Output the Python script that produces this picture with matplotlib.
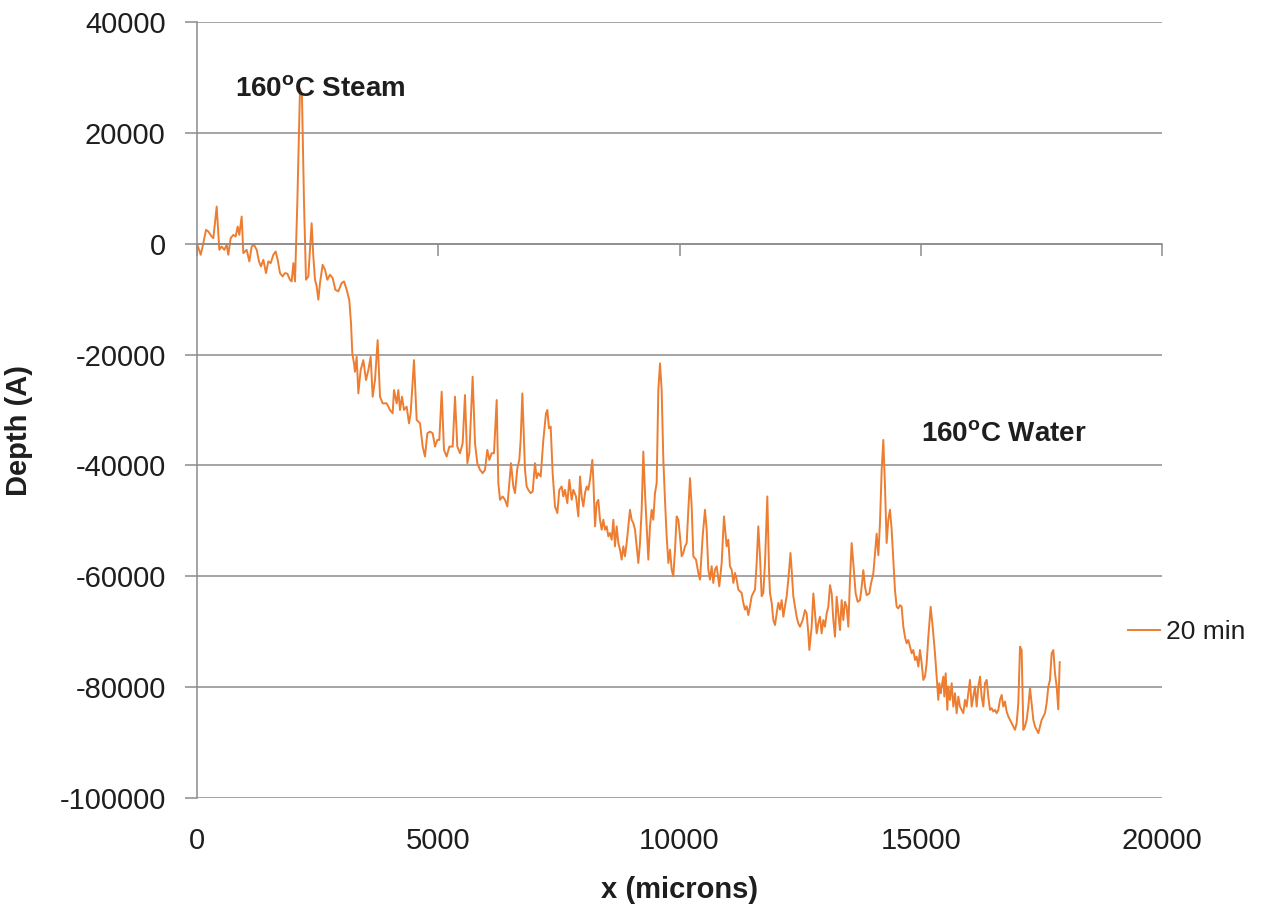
import matplotlib
matplotlib.use("Agg")
import matplotlib.pyplot as plt

# ---------------- data ----------------
x_microns = [
    20, 76, 131, 187, 235, 304, 339, 408, 463, 511, 566, 615, 649, 698, 753, 801, 843, 877, 926, 960,
    1029, 1085, 1133, 1181, 1237, 1285, 1326, 1375, 1430, 1478, 1527, 1582, 1630, 1672, 1720, 1775,
    1824, 1872, 1927, 1962, 1997, 2031, 2079, 2135, 2176, 2218, 2259, 2307, 2342, 2376, 2411, 2446,
    2480, 2515, 2549, 2604, 2653, 2701, 2756, 2812, 2867, 2929, 2998, 3047,
    3102, 3157, 3192, 3219, 3254, 3275, 3309, 3344, 3392, 3447, 3503, 3551, 3599, 3641, 3689, 3744,
    3793, 3848, 3931, 4000, 4055, 4083, 4138, 4173, 4207, 4249, 4290, 4345, 4394, 4428, 4497, 4553,
    4622, 4677, 4725, 4774, 4829, 4884, 4933, 4981, 5022, 5071, 5119, 5174, 5230, 5299, 5347, 5395,
    5451, 5506, 5554, 5603, 5644, 5713, 5762, 5810, 5865, 5920, 5969, 6017, 6059, 6107, 6155, 6211,
    6245, 6280, 6335, 6383, 6432, 6473, 6508, 6556, 6591, 6639, 6680, 6708, 6743, 6798, 6832, 6867,
    6915, 6957, 7005, 7040, 7074, 7123, 7178, 7233, 7261, 7295, 7330, 7371, 7420, 7468, 7509, 7558,
    7592, 7627, 7675, 7717, 7765, 7800, 7855, 7903, 7938, 7972, 8007, 8041, 8076, 8110, 8145, 8193,
    8214, 8249, 8283, 8318, 8352, 8387, 8421, 8456, 8490, 8525, 8559, 8594, 8629, 8663, 8698, 8732,
    8767, 8801, 8836, 8870, 8905, 8939, 8974, 9008, 9043, 9078, 9112, 9147, 9181, 9216, 9250, 9285,
    9319, 9354, 9388, 9423, 9457, 9492,
    9527, 9561, 9596, 9630, 9665, 9699, 9734, 9769, 9803, 9838, 9872, 9907, 9941, 9976, 10010, 10045,
    10079, 10114, 10149, 10183, 10218, 10252, 10287, 10342, 10390, 10425, 10480, 10528, 10563, 10597,
    10632, 10666, 10701, 10735, 10770, 10825, 10874, 10922,
    10977, 11012, 11046, 11081, 11116, 11150, 11185, 11219, 11254, 11288, 11323, 11357, 11392, 11426,
    11461, 11496, 11530, 11565, 11599, 11633, 11668, 11703, 11737, 11772, 11820, 11855, 11875, 11910,
    11945, 11979, 12014, 12048, 12083, 12117, 12152, 12186, 12221, 12255, 12300, 12324, 12359, 12393,
    12428, 12462, 12497,
    12553, 12601, 12635, 12670, 12691, 12739, 12774, 12808, 12843, 12877, 12912, 12946, 12981, 13015,
    13050, 13084, 13119, 13154, 13188, 13223, 13257, 13292, 13326, 13361, 13395, 13430, 13464, 13499,
    13533, 13568, 13603, 13651, 13693, 13741, 13776, 13810, 13845, 13879, 13934, 13969, 14017, 14052,
    14086, 14121, 14155, 14190, 14224, 14259, 14293, 14328, 14362, 14397, 14432, 14466, 14501, 14535,
    14570, 14604, 14639, 14673, 14708, 14742, 14777, 14812, 14846, 14881,
    14915, 14950, 14984, 15019, 15053, 15088, 15122, 15157, 15205, 15247, 15295, 15330, 15364, 15385,
    15413, 15433, 15468, 15489, 15516, 15551, 15572, 15606, 15641, 15675, 15710, 15744, 15779, 15813,
    15848, 15882, 15917, 15951, 15986, 16020, 16055, 16089, 16124, 16159, 16193, 16228, 16262, 16297,
    16331, 16366, 16400,
    16435, 16470, 16504, 16539, 16573, 16608, 16642, 16677, 16711, 16746, 16780, 16815, 16849, 16884,
    16919, 16953, 16988, 17022, 17057, 17091, 17126, 17160, 17195, 17229, 17264, 17298, 17333, 17368,
    17402, 17437, 17471, 17506, 17540, 17575, 17609, 17644, 17678, 17713, 17748, 17782, 17817, 17850,
    17880,
]

depth_20min = [
    -500, -2000, 100, 2500, 2200, 1300, 1000, 6700, -1100, -500, -1100, -200, -2000, 1000, 1600, 1300,
    3100, 1600, 4900, -1700,
    -1100, -3200, -500, -200, -1100, -3200, -4100, -2900, -5300, -3200, -3500, -2000, -1400, -2900,
    -5300, -5900,
    -5300, -5400, -6500, -6800, -3500, -6800, 7300, 28000, 26500, 7300, -6500, -5900, -1100, 3700,
    -2300, -6500,
    -7700, -10100, -7100, -3800, -4700, -6500, -5600, -6200, -8300, -8600, -7100, -6800,
    -8300, -10200, -14400, -19800, -21600, -23100, -20400, -27000, -22800, -21000, -24600, -22800,
    -20400, -27600, -24600, -17400,
    -27600, -28800, -28800, -30000, -30600, -26400, -28800, -26400, -30000, -27600, -30000, -29400,
    -32400, -30600, -21000, -31800,
    -32400, -36600, -38400, -34200, -33900, -34200, -36600, -35400, -35400, -26700, -37200, -38400,
    -36600, -36600, -27600, -36600,
    -37800, -36000, -27300, -39600, -37800, -24000, -36000, -39600, -40800, -41400, -40800, -37200,
    -39000, -37800, -37800, -28200,
    -43200, -46200, -45600, -46200, -47400, -43200, -39600, -43800, -45000, -40500, -39000, -35400,
    -27000, -40800, -43800, -44400,
    -45000, -44700, -39600, -42300, -41400, -42000, -35400, -30600, -30000, -33300, -33000, -41400,
    -47400, -48600, -44400, -43800,
    -45600, -44400, -46800, -42600, -46200, -44400, -45600, -49200, -42000, -45600, -47400, -45000,
    -43800, -44400, -42600, -39000,
    -42600, -51000, -46800, -46200, -49800, -51600, -49800, -51600, -51000, -52800, -52200, -53400,
    -49800, -54600, -51000, -54000,
    -55200, -57000, -54600, -56400, -54000, -51000, -48000, -49800, -50400, -51600, -54600, -57600,
    -54000, -48000, -37500, -45000,
    -51000, -57000, -51000, -48000, -49800, -45000,
    -43200, -26400, -21600, -26400, -39000, -46200, -52800, -57600, -55200, -58800, -60000, -55200,
    -49200, -49800, -52800, -56400,
    -55800, -54600, -54000, -48000, -42300, -47400, -56400, -57000, -59400, -60600, -52800, -48000,
    -51600, -58800,
    -60600, -58200, -61200, -58800, -58200, -61800, -57600, -49200,
    -54600, -53400, -58200, -58800, -61200, -59400, -60600, -62400, -62700, -63000, -64800, -66000,
    -65400, -67000,
    -65400, -63600, -63000, -62400, -57600, -51000, -56400, -63600, -63000, -57600, -45600, -58800,
    -63000, -64800,
    -67900, -68800, -66700, -64800, -66000, -64300, -67300, -65400, -63600, -60600, -55800, -58800,
    -63600, -65400,
    -67300, -68500, -69100,
    -67900, -66100, -66700, -70300, -73300, -69100, -63100, -66700, -70300, -68500, -67300, -70300,
    -67900, -69100,
    -66700, -65500, -61600, -63100, -67900, -70900, -63700, -66700, -69700, -64300, -67900, -64600,
    -65500, -69100,
    -60700, -54000, -57700, -63100, -64600, -64300, -61900, -58900, -61900, -63400, -63100, -61300,
    -59500, -55900,
    -52300, -56200, -50400, -40800, -35400, -43800, -54000, -49800, -48000, -51600, -57100, -62500,
    -65500, -65800,
    -65200, -65500, -69100, -70900, -72100, -71500, -72700, -73900, -73300, -75100,
    -74500, -76300, -73300, -75700, -78700, -78100, -75700, -70900, -65500, -69100, -73900, -78100,
    -82300, -79300,
    -81100, -79900, -78100, -81700, -77500, -84100, -79900, -82300, -79300, -83500, -81100, -84700,
    -81700, -83500,
    -84100, -84700, -82300, -83500, -81100, -78700, -83500, -81700, -79900, -83500, -79900, -78100,
    -81700, -83500,
    -79300, -78700, -81700,
    -84100, -83800, -84400, -84100, -84700, -84100, -82300, -81400, -83500, -82600, -84400, -85300,
    -85900, -86500,
    -87100, -87700, -86500, -82900, -72700, -73300, -87700, -87100, -85900, -83500, -80200, -82900,
    -85900, -87100,
    -87700, -88300, -87100, -85900, -85300, -84700, -82900, -79900, -78700, -73900, -73300, -77500,
    -79900, -84000,
    -75500,
]

series_name = "20 min"
x_ticks = [0, 5000, 10000, 15000, 20000]
y_ticks = [-100000, -80000, -60000, -40000, -20000, 0, 20000, 40000]
x_label = "x (microns)"
y_label = "Depth (A)"
annot_steam = r"160$^{\mathbf{o}}$C Steam"
annot_water = r"160$^{\mathbf{o}}$C Water"
annot_steam_pos = (790, 27700)
annot_water_pos = (15000, -34500)

# ---------------- style ----------------
plt.rcParams["font.family"] = ["Liberation Sans", "DejaVu Sans"]
plt.rcParams["mathtext.fontset"] = "custom"
plt.rcParams["mathtext.rm"] = "Liberation Sans"
plt.rcParams["mathtext.bf"] = "Liberation Sans:bold"
plt.rcParams["axes.unicode_minus"] = False

LINE_COLOR = "#ED7D31"
GRID_COLOR = "#8C8C8C"
TEXT_COLOR = "#1E1E1E"

W, H = 1265, 907
fig = plt.figure(figsize=(W / 100, H / 100), dpi=100)
L, R, T, B = 197, 1162, 22, 798
ax = fig.add_axes([L / W, 1 - B / H, (R - L) / W, (B - T) / H])

ax.plot(x_microns, depth_20min, color=LINE_COLOR, lw=1.4, label=series_name)

ax.set_xlim(0, 20000)
ax.set_ylim(-100000, 40000)
ax.set_yticks(y_ticks)
ax.set_xticks(x_ticks)

ax.yaxis.grid(True, color=GRID_COLOR, lw=1.1)
ax.xaxis.grid(False)
ax.set_axisbelow(True)

for s in ("top", "right"):
    ax.spines[s].set_visible(False)
ax.spines["left"].set_color(GRID_COLOR)
ax.spines["left"].set_linewidth(1.1)
ax.spines["bottom"].set_position(("data", 0))
ax.spines["bottom"].set_color(GRID_COLOR)
ax.spines["bottom"].set_linewidth(1.1)

ax.tick_params(axis="y", direction="out", length=8.5, width=1.1, color=GRID_COLOR,
               labelsize=21, labelcolor=TEXT_COLOR, pad=14)
ax.tick_params(axis="x", direction="out", length=8.5, width=1.1, color=GRID_COLOR,
               labelbottom=False)

# x tick labels placed at the bottom of the plot area
sec = ax.secondary_xaxis("bottom")
sec.set_xticks(x_ticks)
sec.spines["bottom"].set_visible(False)
sec.tick_params(axis="x", length=0, labelsize=21, labelcolor=TEXT_COLOR, pad=21)
sec.set_xlabel(x_label, fontsize=21, fontweight="bold", color=TEXT_COLOR, labelpad=15)

ax.set_ylabel(y_label, fontsize=21, fontweight="bold", color=TEXT_COLOR)
ax.yaxis.set_label_coords(-0.170, 0.474)

ax.text(*annot_steam_pos, annot_steam, fontsize=20, fontweight="bold", color=TEXT_COLOR,
        ha="left", va="center")
ax.text(*annot_water_pos, annot_water, fontsize=20, fontweight="bold", color=TEXT_COLOR,
        ha="left", va="center")

leg = ax.legend(loc="center left", bbox_to_anchor=(0.9648, 0.2139), frameon=False,
                fontsize=19, handlelength=1.2, handletextpad=0.25, borderpad=0,
                borderaxespad=0)
for t in leg.get_texts():
    t.set_color(TEXT_COLOR)

fig.savefig("out.png", dpi=100)
